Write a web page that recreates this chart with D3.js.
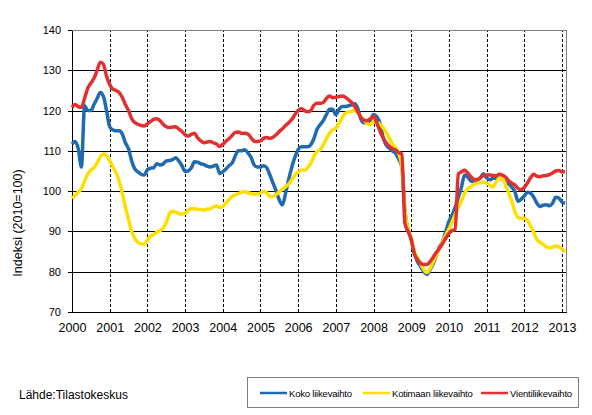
<!DOCTYPE html>
<html>
<head>
<meta charset="utf-8">
<script src="https://cdn.jsdelivr.net/npm/d3@7"></script>
<style>
    body { margin: 0; background: #fff; }
    svg { font-family: "Liberation Sans", Arial, sans-serif; }
</style>
</head>
<body>
<svg width="592" height="415"></svg>
<script>
// monthly index 2010=100, Jan 2000 .. Feb 2013
var years = ['2000', '2001', '2002', '2003', '2004', '2005', '2006',
             '2007', '2008', '2009', '2010', '2011', '2012', '2013'];
var yTicks = [70, 80, 90, 100, 110, 120, 130, 140];
var seriesNames = ['Koko liikevaihto', 'Kotimaan liikevaihto', 'Vientiliikevaihto'];

var koko = [
    111.7, 112.3, 110.5, 106, 121.2, 120, 120, 121.5, 123, 124.5, 123.5, 120,
    116, 115.2, 115, 115, 114.2, 112, 110.5, 107.5, 105.5, 104.8, 104.2, 104,
    105.3, 105.7, 105.8, 106.8, 106.5, 106.7, 107.5, 107.6, 107.8, 108.3, 107.5, 106.3,
    104.9, 105, 105.8, 107.3, 107.2, 106.8, 106.6, 106.2, 106, 106.2, 106.5, 104.4,
    104.8, 105.5, 106.3, 107, 108.8, 110, 110, 110.3, 109.5, 108.4, 106.5, 106,
    106, 106.3, 105.8, 104, 102, 100, 97.8, 96.6, 99.5, 103, 106, 108.5,
    110.3, 111, 111, 111, 111.5, 113, 115.3, 116.5, 117.5, 119, 120.3, 120.3,
    119, 120.3, 121, 121, 121.2, 121.4, 121.7, 120.5, 117.8, 117, 117, 117.6,
    119, 118.5, 117, 113.5, 111.5, 110.7, 110, 109.4, 108, 106, 95, 90.5,
    88, 84.5, 82.5, 81.3, 80, 79.3, 80.5, 82, 84, 86.2, 87.5, 90,
    92.5, 94, 96, 98.5, 101, 104, 103.5, 102.5, 102.4, 102.8, 103.3, 104.3,
    103.3, 102.8, 103.2, 103.2, 103.2, 103, 102.4, 101.8, 101, 99.9, 97.5, 98,
    98.8, 99.7, 99.5, 98.5, 97, 96.2, 96.5, 96.6, 96.4, 97, 98.5, 98.3,
    97.3, 97
];
var kotimaan = [
    98.2, 99, 99.8, 100.6, 102.5, 104.2, 105.2, 105.8, 107, 108.5, 109.2, 108.8,
    107.6, 106, 104.6, 102.5, 99.5, 96, 93, 90, 88.3, 87.3, 86.9, 86.8,
    87.8, 88.8, 89.2, 89.8, 90.2, 90.8, 92.2, 94.3, 95, 94.8, 94.4, 94.3,
    94.5, 95.2, 95.7, 95.6, 95.5, 95.4, 95.3, 95.5, 95.6, 96.1, 96.3, 96,
    96.2, 97, 97.9, 98.7, 99.1, 99.4, 99.7, 99.9, 99.6, 99.4, 99.2, 99.3,
    99.5, 100, 99.6, 98.7, 98.7, 99.2, 99.8, 100.5, 101.1, 101.8, 102.8, 104,
    104.8, 105.2, 105.2, 105.8, 106.9, 108.6, 109.8, 110.3, 111.5, 113, 114.4, 115.2,
    115.6, 116.8, 118.2, 119.3, 119.6, 119.8, 120.1, 119.4, 118.5, 117.6, 116.8, 116.5,
    117.2, 117, 116.7, 115.8, 114.6, 113.2, 111.8, 110.8, 109.5, 106, 95, 90.5,
    88.3, 85, 83.5, 82, 80.5, 79.8, 80.8, 82.5, 84, 85.8, 87.5, 89.1,
    90.6, 92.3, 94.2, 96, 97.6, 99.5, 100.6, 101.1, 101.7, 102, 102.1, 102.3,
    102, 101.5, 101, 102.2, 103.2, 103.1, 101.6, 99.6, 97.5, 95, 93.5, 93.2,
    93.3, 92.8, 91.3, 89.8, 88, 87.3, 86.8, 86.2, 85.9, 86.1, 86.4, 86.2,
    85.6, 85
];
var vienti = [
    120.8, 121.5, 121, 120.8, 123, 125.5, 126.8, 128, 130, 132, 131.5, 128.5,
    126.5, 125.3, 125, 124.5, 123.3, 121.5, 120, 118, 117, 116.6, 116.3, 116.2,
    116.7, 117.3, 117.8, 118, 117.5, 116.6, 116, 115.8, 115.9, 116, 115.4, 114.8,
    114, 113.7, 114.1, 114.4, 113.2, 112.5, 112, 112.2, 112.3, 112, 111.7, 111.1,
    111.6, 112.4, 113, 113.8, 114.6, 114.7, 114.3, 114.4, 114.2, 113.3, 112.4, 112.3,
    112.5, 113.1, 113.3, 113.1, 113.4, 114, 114.8, 115.5, 116.3, 117, 117.8, 119,
    120, 120.5, 120, 119.7, 120, 121.3, 121.8, 121.8, 122, 123, 123.6, 123.2,
    123.3, 123.5, 123.6, 123.3, 122.7, 122, 121, 119.7, 118.3, 117.6, 117.5, 118,
    118.5, 117, 115, 113.3, 112, 111.2, 110.6, 110.2, 109.6, 109.2, 92, 90,
    88, 84.5, 83, 82.1, 81.8, 81.8, 82.5, 83.6, 84.8, 85.8, 87, 88.3,
    89.5, 90.2, 90.4, 104.3, 104.8, 105.2, 104.5, 103.6, 102.9, 102.9, 103.3, 103.9,
    104, 104, 103.9, 103.8, 104.2, 104, 103.5, 102.6, 102, 101.5, 100.7, 100.4,
    100.9, 102, 103.3, 104.2, 103.7, 103.6, 103.8, 103.9, 104.1, 104.5, 105, 105.1,
    104.8, 104.8
];
var colors = ['#1f6ab0', '#ffdf00', '#e03030'];

var svg = d3.select('svg');
var plotL = 72, plotT = 30, plotR = 566.7, plotB = 312;

var x = d3.scaleLinear().domain([0, 157.5]).range([plotL, plotR]);
var y = d3.scaleLinear().domain([70, 140]).range([plotB, plotT]);

// horizontal grid
svg.append('g')
    .attr('transform', 'translate(' + plotL + ',0)')
    .call(d3.axisLeft(y).tickValues(yTicks.slice(1, -1)).tickSize(-(plotR - plotL)).tickFormat(''))
    .call(function(g) { g.select('.domain').remove(); })
    .selectAll('line')
        .attr('stroke', '#000')
        .attr('shape-rendering', 'crispEdges');

// dashed year lines
svg.append('g')
    .attr('transform', 'translate(0,' + plotB + ')')
    .call(d3.axisBottom(x).tickValues(d3.range(1, years.length).map(function(i) { return i * 12; }))
        .tickSize(-(plotB - plotT)).tickFormat(''))
    .call(function(g) { g.select('.domain').remove(); })
    .selectAll('line')
        .attr('stroke', '#000')
        .attr('stroke-dasharray', '3,2')
        .attr('shape-rendering', 'crispEdges');

// plot frame: grey top/right
svg.append('path')
    .attr('d', 'M' + plotL + ',' + plotT + 'H' + plotR + 'V' + plotB)
    .attr('fill', 'none')
    .attr('stroke', '#808080')
    .attr('shape-rendering', 'crispEdges');

// y axis
svg.append('g')
    .attr('transform', 'translate(' + plotL + ',0)')
    .call(d3.axisLeft(y).tickValues(yTicks).tickSize(4).tickSizeOuter(0).tickPadding(7))
    .call(function(g) {
        g.select('.domain').attr('stroke', '#000');
        g.selectAll('line').attr('stroke', '#000');
        g.selectAll('text').attr('font-size', '11px').attr('fill', '#000');
    })
    .attr('font-family', null)
    .attr('shape-rendering', 'crispEdges');

// x axis
svg.append('g')
    .attr('transform', 'translate(0,' + plotB + ')')
    .call(d3.axisBottom(x).tickValues(years.map(function(d, i) { return i * 12; }))
        .tickFormat(function(d, i) { return years[i]; })
        .tickSize(0).tickSizeOuter(0).tickPadding(11.5))
    .call(function(g) {
        g.select('.domain').attr('stroke', '#000');
        g.selectAll('text').attr('font-size', '12.5px').attr('fill', '#000');
    })
    .attr('font-family', null)
    .attr('shape-rendering', 'crispEdges');

svg.append('text')
    .attr('transform', 'translate(22,223) rotate(-90)')
    .attr('text-anchor', 'middle')
    .attr('font-size', '12.5px')
    .text('Indeksi (2010=100)');

// data lines
var line = d3.line()
    .curve(d3.curveMonotoneX)
    .x(function(d, i) { return x(i); })
    .y(function(d) { return y(d); });

[koko, kotimaan, vienti].forEach(function(s, k) {
    svg.append('path')
        .datum(s)
        .attr('d', line)
        .attr('fill', 'none')
        .attr('stroke', colors[k])
        .attr('stroke-width', 3.5)
        .attr('stroke-linejoin', 'round');
});

svg.append('text')
    .attr('x', 19)
    .attr('y', 399)
    .attr('font-size', '12px')
    .text('Lähde:Tilastokeskus');

// legend
var legend = svg.append('g');
legend.append('rect')
    .attr('x', 247.5).attr('y', 377.5)
    .attr('width', 331).attr('height', 30)
    .attr('fill', '#fff')
    .attr('stroke', '#808080');

var legendX = [260, 363, 481];
seriesNames.forEach(function(name, k) {
    legend.append('line')
        .attr('x1', legendX[k]).attr('x2', legendX[k] + 27)
        .attr('y1', 393).attr('y2', 393)
        .attr('stroke', colors[k])
        .attr('stroke-width', 2.5);
    legend.append('text')
        .attr('x', legendX[k] + 29)
        .attr('y', 396.5)
        .attr('font-size', '9.5px')
        .attr('letter-spacing', '-0.2px')
        .text(name);
});
</script>
</body>
</html>
